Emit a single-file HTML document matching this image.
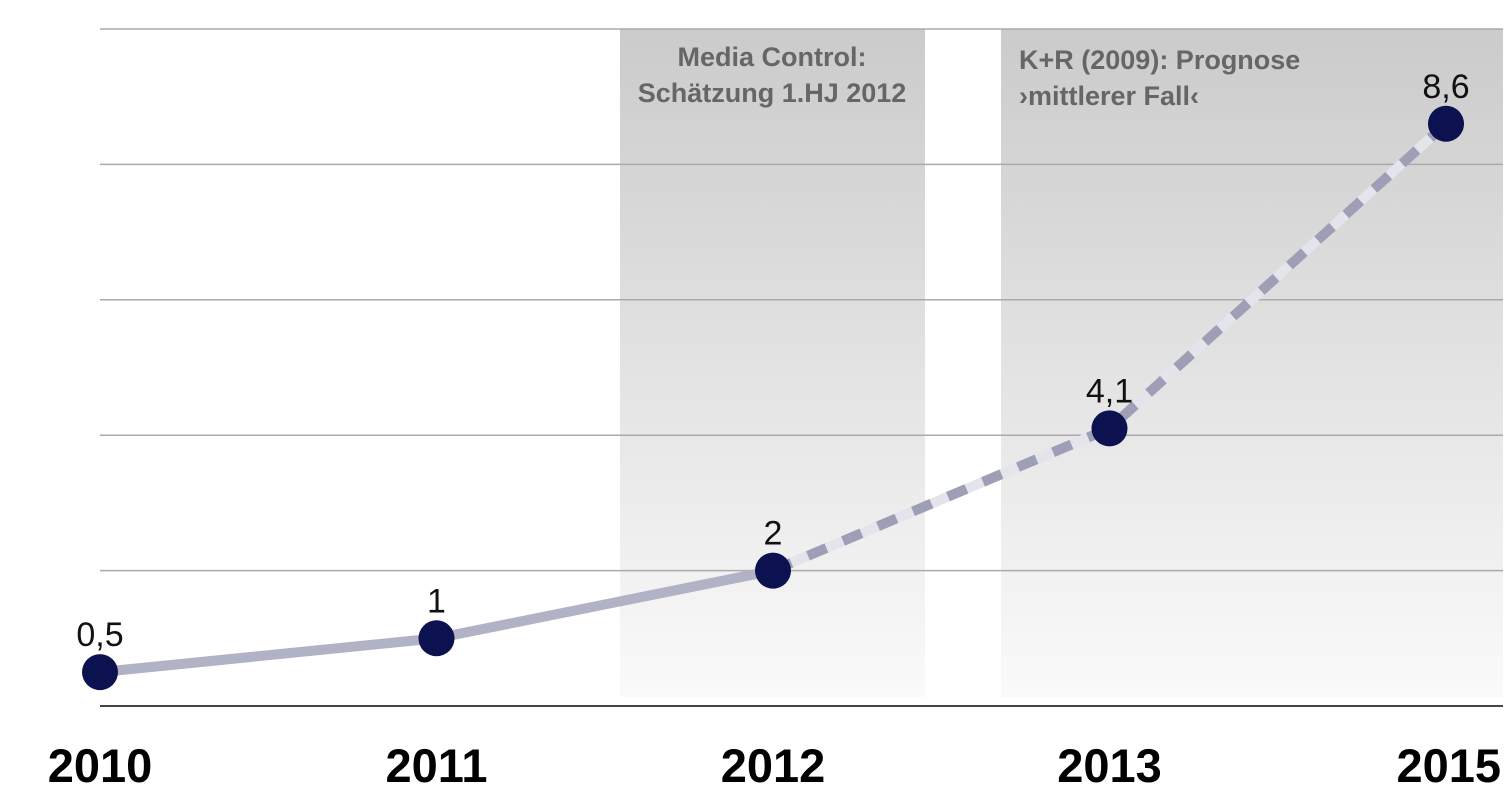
<!DOCTYPE html>
<html><head><meta charset="utf-8"><style>
html,body{margin:0;padding:0;background:#fff;}
svg{display:block;font-family:"Liberation Sans",sans-serif;}
</style></head><body>
<svg width="1511" height="809" viewBox="0 0 1511 809">
<defs>
<linearGradient id="shade" x1="0" y1="0" x2="0" y2="1">
<stop offset="0" stop-color="#cbcbcb"/><stop offset="1" stop-color="#fafafa"/>
</linearGradient>
</defs>
<g id="shades"></g>
<g id="grid"></g>
<g id="lines"></g>
<g id="points"></g>
<g id="labels"></g>
</svg>
<script>
const categories = ["2010","2011","2012","2013","2015"];
const values = [0.5, 1, 2, 4.1, 8.6];
const valueLabels = ["0,5","1","2","4,1","8,6"];
const yTicks = [0,2,4,6,8,10];
const actualCount = 3;
const NS="http://www.w3.org/2000/svg";
const x0=100, dx=336.5, yBase=706, yScale=67.7;
const xPos=i=>x0+i*dx;
const yPos=v=>yBase-v*yScale;
function mk(tag,attrs,parent){const e=document.createElementNS(NS,tag);for(const k in attrs)e.setAttribute(k,attrs[k]);document.getElementById(parent).appendChild(e);return e;}

const s1=mk("rect",{x:620,y:29,width:305,height:668,fill:"url(#shade)"},"shades");


const s2=mk("rect",{x:1001,y:29,width:502,height:668,fill:"url(#shade)"},"shades");


const t1=mk("text",{x:772,y:66,"text-anchor":"middle","font-size":"27","font-weight":"bold",fill:"#666"},"shades");
t1.textContent="Media Control:";


const t2=mk("text",{x:772,y:102,"text-anchor":"middle","font-size":"27","font-weight":"bold",fill:"#666"},"shades");
t2.textContent="Schätzung 1.HJ 2012";


const t3=mk("text",{x:1019,y:69,"font-size":"27","font-weight":"bold",fill:"#666"},"shades");
t3.textContent="K+R (2009): Prognose";


const t4=mk("text",{x:1019,y:105,"font-size":"27","font-weight":"bold",fill:"#666"},"shades");
t4.textContent="›mittlerer Fall‹";



yTicks.forEach(v=>{
 const g=mk("line",{x1:100,x2:1503,y1:yPos(v),y2:yPos(v),stroke:v===0?"#444":"#aaa","stroke-width":v===0?2:1.5},"grid");
 
 
});

const solidPts=values.slice(0,actualCount).map((v,i)=>xPos(i)+","+yPos(v)).join(" ");
const sl=mk("polyline",{points:solidPts,fill:"none",stroke:"#b2b2c6","stroke-width":10,"stroke-linejoin":"round"},"lines");


const dashPts=values.slice(actualCount-1).map((v,i)=>xPos(i+actualCount-1)+","+yPos(v)).join(" ");
const dl=mk("polyline",{points:dashPts,fill:"none",stroke:"#e4e4ec","stroke-width":10,"stroke-linejoin":"round"},"lines");


const dd=mk("polyline",{points:dashPts,fill:"none",stroke:"#9e9eb6","stroke-width":10,"stroke-dasharray":"20 18"},"lines");



values.forEach((v,i)=>{
 const c=mk("circle",{cx:xPos(i),cy:yPos(v),r:18,fill:"#0c1150"},"points");
 
 
 const t=mk("text",{x:xPos(i),y:yPos(v)-26,"text-anchor":"middle","font-size":"34",fill:"#111"},"labels");
 t.textContent=valueLabels[i];
 
 
 const last=i===categories.length-1;
 const yl=mk("text",{x:last?1501:xPos(i),y:782,"text-anchor":last?"end":"middle","font-size":"47","font-weight":"bold",fill:"#000"},"labels");
 yl.textContent=categories[i];
 
 
});
</script>
</body></html>
